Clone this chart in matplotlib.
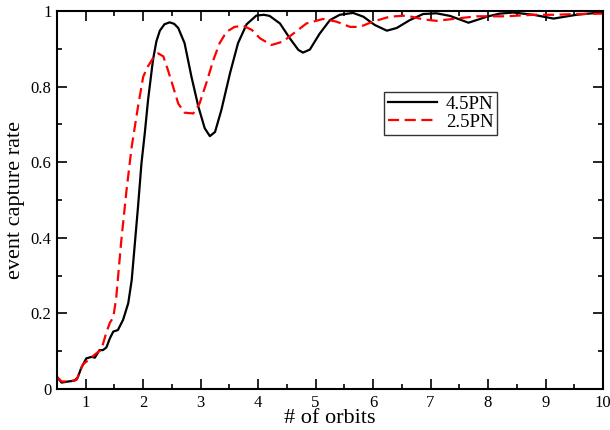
import matplotlib
matplotlib.use("Agg")
import matplotlib.pyplot as plt
from matplotlib.ticker import MultipleLocator, FormatStrFormatter

plt.rcParams['font.family'] = ['Liberation Serif', 'DejaVu Serif']

# 4.5PN curve
orbits_45 = [0.5, 0.58, 0.7, 0.8, 0.86, 0.92, 1.01, 1.1, 1.16, 1.24, 1.3, 1.36,
             1.42, 1.48, 1.56, 1.65, 1.74, 1.8, 1.85, 1.91, 1.97, 2.03, 2.085,
             2.17, 2.23, 2.29, 2.37, 2.46, 2.54, 2.61, 2.72, 2.84, 2.96, 3.07,
             3.16, 3.25, 3.36, 3.51, 3.65, 3.8, 3.97, 4.1, 4.2, 4.38, 4.55,
             4.7, 4.78, 4.9, 5.07, 5.25, 5.42, 5.65, 5.83, 6.03, 6.24, 6.41,
             6.64, 6.87, 7.1, 7.34, 7.66, 7.98, 8.2, 8.44, 8.79, 9.14, 9.54,
             9.95, 10.0]
rate_45 = [0.032, 0.017, 0.02, 0.022, 0.03, 0.055, 0.081, 0.085, 0.083, 0.103,
           0.103, 0.11, 0.134, 0.152, 0.156, 0.183, 0.227, 0.288, 0.376, 0.482,
           0.597, 0.68, 0.765, 0.87, 0.92, 0.948, 0.965, 0.97, 0.966, 0.955,
           0.915, 0.826, 0.747, 0.69, 0.669, 0.68, 0.738, 0.835, 0.915, 0.965,
           0.988, 0.99, 0.987, 0.967, 0.928, 0.897, 0.89, 0.898, 0.94, 0.976,
           0.99, 0.995, 0.985, 0.963, 0.948, 0.955, 0.976, 0.992, 0.994, 0.987,
           0.969, 0.985, 0.993, 0.996, 0.99, 0.98, 0.99, 0.996, 0.996]

# 2.5PN curve
orbits_25 = [0.5, 0.58, 0.7, 0.84, 0.95, 1.05, 1.15, 1.23, 1.27, 1.36, 1.42,
             1.48, 1.53, 1.62, 1.71, 1.8, 1.91, 2.0, 2.08, 2.17, 2.26, 2.35,
             2.43, 2.52, 2.61, 2.72, 2.87, 2.98, 3.1, 3.22, 3.33, 3.45, 3.59,
             3.74, 3.89, 4.03, 4.23, 4.43, 4.61, 4.84, 5.13, 5.36, 5.6, 5.77,
             6.0, 6.29, 6.58, 6.87, 7.1, 7.45, 7.8, 8.3, 8.8, 9.14, 9.54, 10.0]
rate_25 = [0.032, 0.02, 0.02, 0.024, 0.065, 0.077, 0.09, 0.1, 0.103, 0.15,
           0.175, 0.19, 0.24, 0.394, 0.526, 0.641, 0.747, 0.826, 0.853, 0.875,
           0.888, 0.88, 0.844, 0.8, 0.755, 0.731, 0.729, 0.755, 0.81, 0.87,
           0.915, 0.945, 0.958, 0.961, 0.95, 0.928, 0.91, 0.919, 0.94, 0.967,
           0.979, 0.972, 0.958, 0.958, 0.972, 0.985, 0.988, 0.978, 0.974, 0.98,
           0.986, 0.986, 0.99, 0.99, 0.992, 0.993]

fig = plt.figure(figsize=(6.1, 4.3), dpi=100)
ax = fig.add_axes([0.0934, 0.0953, 0.8951, 0.8791])

ax.plot(orbits_45, rate_45, color='black', lw=1.6, label='4.5PN')
ax.plot(orbits_25, rate_25, color='red', lw=1.6, ls=(0, (5, 2.5)), label='2.5PN')

ax.set_xlim(0.5, 10)
ax.set_ylim(0, 1)
ax.xaxis.set_major_locator(MultipleLocator(1))
ax.xaxis.set_minor_locator(MultipleLocator(0.5))
ax.yaxis.set_major_locator(MultipleLocator(0.2))
ax.yaxis.set_minor_locator(MultipleLocator(0.1))
ax.yaxis.set_major_formatter(FormatStrFormatter('%g'))
ax.tick_params(which='both', direction='in', top=True, right=True,
               labelsize=12, width=1.2)
ax.tick_params(which='major', length=7, pad=4)
ax.tick_params(which='minor', length=3.5)
for s in ax.spines.values():
    s.set_linewidth(1.5)

ax.set_xlabel('# of orbits', fontsize=16, labelpad=-1)
ax.set_ylabel('event capture rate', fontsize=16, labelpad=4)

leg = ax.legend(loc='upper left', bbox_to_anchor=(0.599, 0.786), fontsize=13.5,
                frameon=True, fancybox=False, edgecolor='black',
                handlelength=2.6, borderpad=0.2, labelspacing=0.05,
                handletextpad=0.5, borderaxespad=0)
leg.get_frame().set_linewidth(1.0)

fig.savefig('out.png', dpi=100)
